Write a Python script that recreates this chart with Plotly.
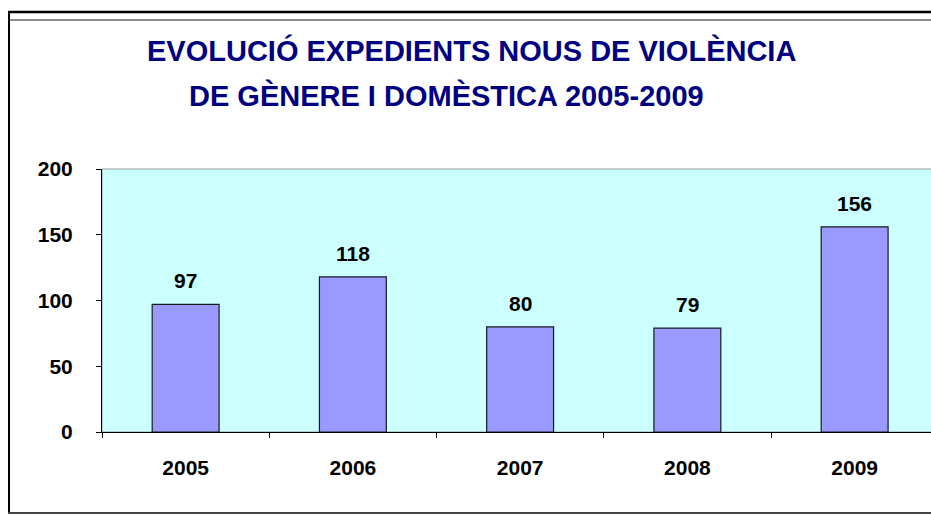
import plotly.graph_objects as go

years = ["2005", "2006", "2007", "2008", "2009"]
values = [97, 118, 80, 79, 156]
y_ticks = [0, 50, 100, 150, 200]
title_line1 = "EVOLUCIÓ EXPEDIENTS NOUS DE VIOLÈNCIA"
title_line2 = "DE GÈNERE I DOMÈSTICA 2005-2009"

W, H = 931, 515
# plot area edges in window pixels
L, R, T, B = 102, 931, 169, 432


def px(x):
    return (x - L) / (R - L)


def py(y):
    return (B - y) / (B - T)


FONT = "Arial, Liberation Sans, sans-serif"

fig = go.Figure()
fig.add_trace(go.Bar(
    x=years, y=values, width=0.4,
    marker=dict(color="#9999FF", line=dict(color="#1a1a1a", width=1.2)),
    hoverinfo="x+y",
))

annotations = []
for i, v in enumerate(values):
    annotations.append(dict(x=i, y=v, xref="x", yref="y", text=str(v),
                            showarrow=False, yanchor="bottom", yshift=10,
                            font=dict(family=FONT, size=21, color="#000000", weight="bold")))
annotations.append(dict(x=px(145), y=py(51), xref="paper", yref="paper",
                        text=title_line1, showarrow=False,
                        xanchor="left", yanchor="middle",
                        font=dict(family=FONT, size=29, color="#000080", weight="bold")))
annotations.append(dict(x=px(187), y=py(96), xref="paper", yref="paper",
                        text=title_line2, showarrow=False,
                        xanchor="left", yanchor="middle",
                        font=dict(family=FONT, size=29, color="#000080", weight="bold")))

shapes = [
    # plot area border (gray)
    dict(type="rect", xref="paper", yref="paper", x0=0, x1=px(940), y0=0, y1=1,
         line=dict(color="#999999", width=1), layer="below"),
    # outer frame
    dict(type="line", xref="paper", yref="paper", x0=px(8), x1=px(935), y0=py(12), y1=py(12),
         line=dict(color="#000000", width=2.5)),
    dict(type="line", xref="paper", yref="paper", x0=px(8), x1=px(935), y0=py(20), y1=py(20),
         line=dict(color="#666666", width=1.5)),
    dict(type="line", xref="paper", yref="paper", x0=px(9), x1=px(9), y0=py(11), y1=py(513),
         line=dict(color="#000000", width=2)),
    dict(type="line", xref="paper", yref="paper", x0=px(8), x1=px(935), y0=py(513), y1=py(513),
         line=dict(color="#444444", width=2)),
]

fig.update_layout(
    width=W, height=H,
    margin=dict(l=L, r=W - R, t=T, b=H - B, pad=0),
    paper_bgcolor="#FFFFFF",
    plot_bgcolor="#CCFFFF",
    showlegend=False,
    annotations=annotations,
    shapes=shapes,
    xaxis=dict(
        type="category", range=[-0.5, -0.5 + (R - L) / 167.25],
        tickson="boundaries", ticks="outside", ticklen=5, tickcolor="#000000",
        showline=True, linecolor="#000000", linewidth=1, showgrid=False,
        tickfont=dict(family=FONT, size=21, color="#000000", weight="bold"),
        ticklabelstandoff=17, zeroline=False, fixedrange=True,
    ),
    yaxis=dict(
        range=[0, 200], tickvals=y_ticks, ticks="outside", ticklen=5, tickcolor="#000000",
        showline=True, linecolor="#000000", linewidth=1, showgrid=False, zeroline=False,
        tickfont=dict(family=FONT, size=21, color="#000000", weight="bold"),
        ticklabelstandoff=19, fixedrange=True,
    ),
)

fig.write_html(
    "out.html",
    config={"displayModeBar": False},
    post_script="document.body.style.margin='0';document.body.style.overflow='hidden';",
)
